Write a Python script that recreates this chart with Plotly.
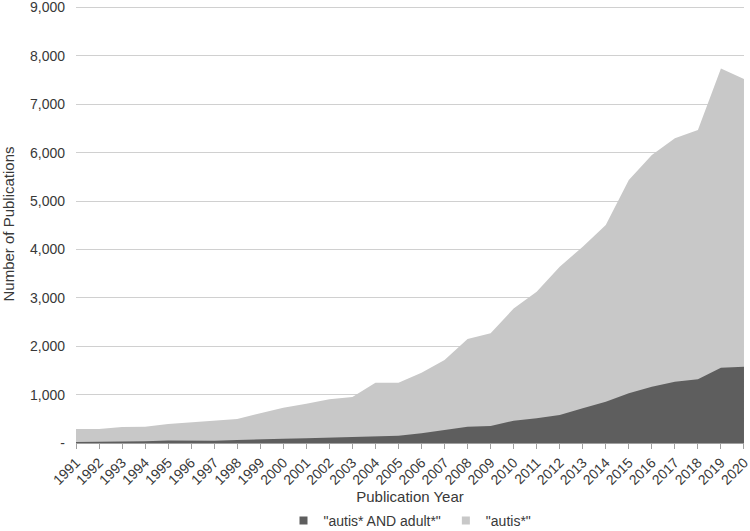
import plotly.graph_objects as go

years = list(range(1991, 2021))
autis_all = [290, 290, 330, 335, 390, 430, 455, 495, 615, 730, 810, 905, 950, 1246,
             1246, 1450, 1715, 2150, 2266, 2780, 3126, 3643, 4056, 4504, 5434, 5950,
             6295, 6467, 7740, 7520]
autis_adult = [20, 20, 25, 35, 50, 40, 45, 60, 80, 90, 100, 110, 120, 140,
               150, 200, 269, 337, 351, 461, 510, 579, 717, 854, 1027, 1163,
               1267, 1316, 1556, 1577]

y_ticks = list(range(0, 9001, 1000))
y_text = ['-'] + [f'{v:,}' for v in y_ticks[1:]]

dark = '#5e5e5e'
light = '#c8c8c8'

fig = go.Figure()
fig.add_trace(go.Scatter(
    x=years, y=autis_all, mode='lines', showlegend=False,
    line=dict(width=0, color=light), fill='tozeroy', fillcolor=light
))
fig.add_trace(go.Scatter(
    x=years, y=autis_adult, mode='lines', showlegend=False,
    line=dict(width=0, color=dark), fill='tozeroy', fillcolor=dark
))
# legend entries with square swatches
fig.add_trace(go.Scatter(x=[None], y=[None], mode='markers', name='"autis* AND adult*"',
                         marker=dict(symbol='square', size=8, color=dark)))
fig.add_trace(go.Scatter(x=[None], y=[None], mode='markers', name='"autis*"',
                         marker=dict(symbol='square', size=8, color=light)))

fig.update_layout(
    width=750,
    height=531,
    margin=dict(l=76, r=6, t=5, b=88),
    plot_bgcolor='white',
    paper_bgcolor='white',
    font=dict(family='Liberation Sans, Arial, sans-serif', size=14, color='#383838'),
    legend=dict(
        orientation='h', x=0.5, xanchor='center',
        yref='container', y=0.019, yanchor='middle',
        font=dict(size=14), itemwidth=30, tracegroupgap=0
    ),
    xaxis=dict(
        range=[1991, 2020.001],
        tickmode='array', tickvals=years, ticktext=[str(y) for y in years],
        tickangle=-45, ticklabeloverflow='allow',
        ticks='outside', ticklen=5, tickcolor='#a0a0a0',
        showline=True, linecolor='#a0a0a0', linewidth=1,
        showgrid=False, zeroline=False,
        title=dict(text='Publication Year', standoff=9, font=dict(size=15)),
        automargin=False
    ),
    yaxis=dict(
        range=[0, 9050],
        tickmode='array', tickvals=y_ticks, ticktext=y_text,
        ticklabeloverflow='allow',
        showgrid=True, gridcolor='#d0d0d0', gridwidth=1,
        zeroline=False, showline=False,
        ticks='', ticklabelstandoff=10,
        title=dict(text='Number of Publications', standoff=12, font=dict(size=15)),
        automargin=False
    )
)

fig.write_html('out.html', config={'displayModeBar': False},
               post_script="document.body.style.margin='0px';")
